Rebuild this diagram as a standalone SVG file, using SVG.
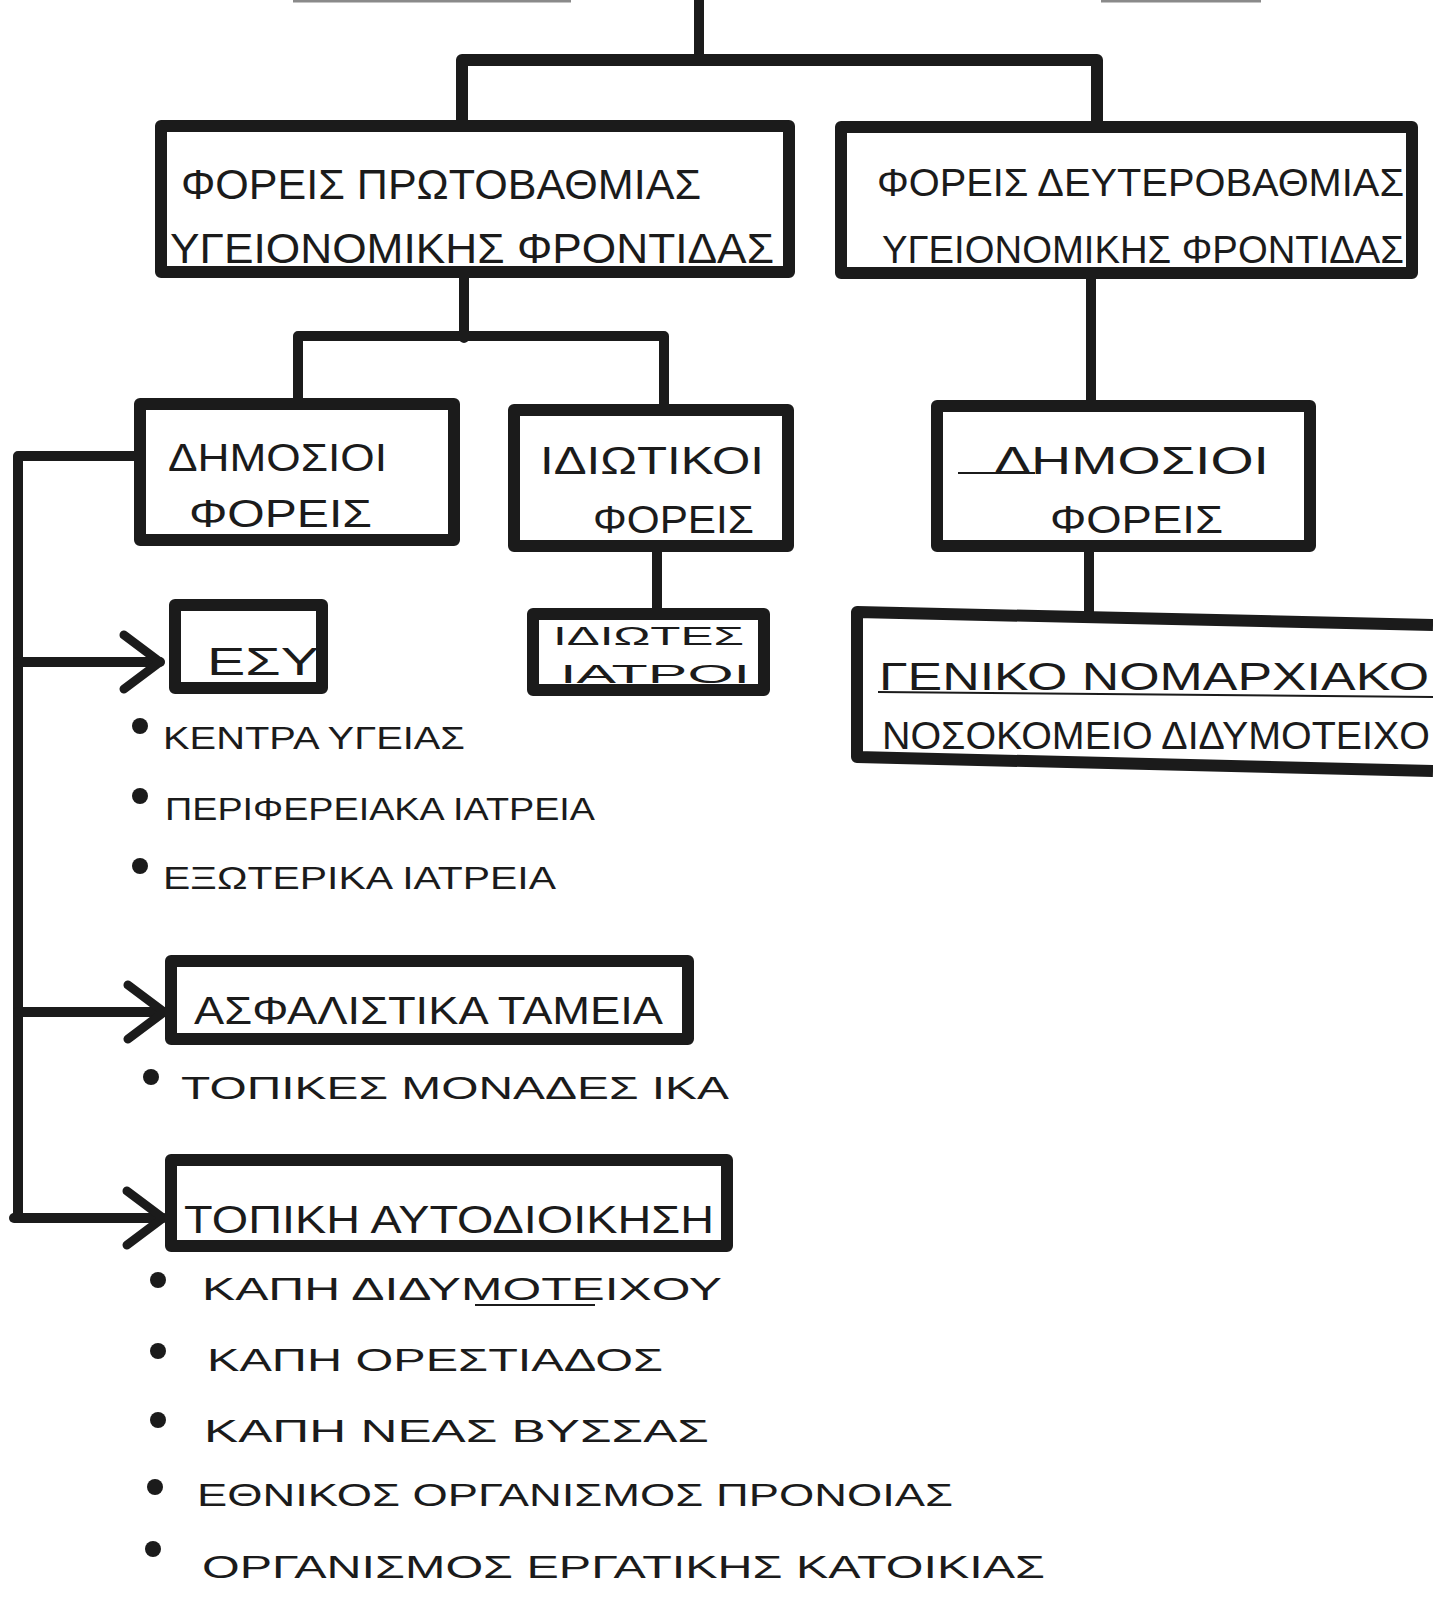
<svg xmlns="http://www.w3.org/2000/svg" width="1433" height="1598" viewBox="0 0 1433 1598">
<style>
.box{fill:none;stroke:#1b1b1b;stroke-width:12;stroke-linejoin:round}
.ln{fill:none;stroke:#1b1b1b;stroke-width:10;stroke-linecap:round;stroke-linejoin:round}
.thin{fill:none;stroke:#1b1b1b;stroke-width:2}
.faint{fill:none;stroke:#8a8a8a;stroke-width:3}
text{font-family:"Liberation Sans","DejaVu Sans",sans-serif;fill:#1b1b1b}
.t1{font-size:42px}
.t2{font-size:38px}
.t3{font-size:26px}
.b{font-size:32px}
.dot{fill:#1b1b1b}
</style>
<defs>
<marker id="chev" markerUnits="userSpaceOnUse" markerWidth="60" markerHeight="70" refX="46" refY="35" orient="auto">
<path d="M10,8 L46,35 L10,62" fill="none" stroke="#1b1b1b" stroke-width="9" stroke-linecap="round" stroke-linejoin="round"/>
</marker>
</defs>
<rect width="1433" height="1598" fill="#ffffff"/>

<g id="connectors">
<line class="faint" x1="293" y1="1" x2="571" y2="1"/>
<line class="faint" x1="1101" y1="1" x2="1261" y2="1"/>
<path class="ln" d="M699,0 L699,60"/>
<path class="ln" d="M462,124 L462,60 L1097,60 L1097,126" style="stroke-width:12"/>
<path class="ln" d="M464,272 L464,338"/>
<path class="ln" d="M298,402 L298,336 L664,336 L664,408"/>
<path class="ln" d="M657,546 L657,614"/>
<path class="ln" d="M1091,273 L1091,405"/>
<path class="ln" d="M1089,546 L1089,614"/>
<path class="ln" d="M140,456 L18,456 L18,1218"/>
<path class="ln" d="M18,662 L160,662" marker-end="url(#chev)"/>
<path class="ln" d="M18,1012 L164,1012" marker-end="url(#chev)"/>
<path class="ln" d="M14,1218 L163,1218" marker-end="url(#chev)"/>
</g>

<g id="n-protovathmia">
<rect class="box" x="161" y="126" width="628" height="146"/>
<text class="t1" x="181" y="199" textLength="520" lengthAdjust="spacingAndGlyphs">ΦΟΡΕΙΣ ΠΡΩΤΟΒΑΘΜΙΑΣ</text>
<text class="t1" x="170" y="263" textLength="604" lengthAdjust="spacingAndGlyphs">ΥΓΕΙΟΝΟΜΙΚΗΣ ΦΡΟΝΤΙΔΑΣ</text>
</g>

<g id="n-defterovathmia">
<rect class="box" x="841" y="127" width="571" height="146"/>
<text class="t2" x="877" y="196" textLength="527" lengthAdjust="spacingAndGlyphs">ΦΟΡΕΙΣ ΔΕΥΤΕΡΟΒΑΘΜΙΑΣ</text>
<text class="t2" x="882" y="263" textLength="522" lengthAdjust="spacingAndGlyphs">ΥΓΕΙΟΝΟΜΙΚΗΣ ΦΡΟΝΤΙΔΑΣ</text>
</g>

<g id="n-dimosioi-1">
<rect class="box" x="140" y="404" width="314" height="136"/>
<text class="t2" x="168" y="471" textLength="219" lengthAdjust="spacingAndGlyphs">ΔΗΜΟΣΙΟΙ</text>
<text class="t2" x="189" y="527" textLength="183" lengthAdjust="spacingAndGlyphs">ΦΟΡΕΙΣ</text>
</g>

<g id="n-idiotikoi">
<rect class="box" x="514" y="410" width="274" height="136"/>
<text class="t2" x="540" y="474" textLength="224" lengthAdjust="spacingAndGlyphs">ΙΔΙΩΤΙΚΟΙ</text>
<text class="t2" x="593" y="533" textLength="161" lengthAdjust="spacingAndGlyphs">ΦΟΡΕΙΣ</text>
</g>

<g id="n-idiotes">
<rect class="box" x="533" y="614" width="231" height="76"/>
<text class="t3" x="553" y="645" textLength="191" lengthAdjust="spacingAndGlyphs">ΙΔΙΩΤΕΣ</text>
<text class="t3" x="560" y="683" textLength="190" lengthAdjust="spacingAndGlyphs">ΙΑΤΡΟΙ</text>
</g>

<g id="n-esy">
<rect class="box" x="175" y="605" width="147" height="83"/>
<text class="t2" x="207" y="675" textLength="112" lengthAdjust="spacingAndGlyphs">ΕΣΥ</text>
</g>

<g id="n-dimosioi-2">
<rect class="box" x="937" y="406" width="373" height="140"/>
<line class="thin" x1="958" y1="473" x2="1035" y2="473"/>
<text class="t2" x="994" y="474" textLength="275" lengthAdjust="spacingAndGlyphs">ΔΗΜΟΣΙΟΙ</text>
<text class="t2" x="1050" y="533" textLength="173" lengthAdjust="spacingAndGlyphs">ΦΟΡΕΙΣ</text>
</g>

<g id="n-nosokomeio">
<path class="box" d="M1433,625 L857,612 L857,757 L1433,771"/>
<line class="thin" x1="878" y1="692" x2="1433" y2="697"/>
<text class="t2" x="879" y="690" textLength="550" lengthAdjust="spacingAndGlyphs">ΓΕΝΙΚΟ ΝΟΜΑΡΧΙΑΚΟ</text>
<text class="t2" x="882" y="749" textLength="548" lengthAdjust="spacingAndGlyphs">ΝΟΣΟΚΟΜΕΙΟ ΔΙΔΥΜΟΤΕΙΧΟ</text>
</g>

<g id="n-esy-list">
<circle class="dot" cx="140" cy="726" r="8"/>
<text class="b" x="163" y="749" textLength="302" lengthAdjust="spacingAndGlyphs">ΚΕΝΤΡΑ ΥΓΕΙΑΣ</text>
<circle class="dot" cx="140" cy="796" r="8"/>
<text class="b" x="165" y="820" textLength="430" lengthAdjust="spacingAndGlyphs">ΠΕΡΙΦΕΡΕΙΑΚΑ ΙΑΤΡΕΙΑ</text>
<circle class="dot" cx="140" cy="866" r="8"/>
<text class="b" x="163" y="889" textLength="393" lengthAdjust="spacingAndGlyphs">ΕΞΩΤΕΡΙΚΑ ΙΑΤΡΕΙΑ</text>
</g>

<g id="n-asfalistika">
<rect class="box" x="171" y="961" width="517" height="78"/>
<text class="t2" x="194" y="1024" textLength="469" lengthAdjust="spacingAndGlyphs">ΑΣΦΑΛΙΣΤΙΚΑ ΤΑΜΕΙΑ</text>
<circle class="dot" cx="151" cy="1077" r="8"/>
<text class="b" x="181" y="1099" textLength="548" lengthAdjust="spacingAndGlyphs">ΤΟΠΙΚΕΣ ΜΟΝΑΔΕΣ ΙΚΑ</text>
</g>

<g id="n-topiki">
<rect class="box" x="171" y="1160" width="556" height="86"/>
<text class="t2" x="184" y="1233" textLength="530" lengthAdjust="spacingAndGlyphs">ΤΟΠΙΚΗ ΑΥΤΟΔΙΟΙΚΗΣΗ</text>
</g>

<g id="n-topiki-list">
<circle class="dot" cx="158" cy="1280" r="8"/>
<text class="b" x="202" y="1300" textLength="520" lengthAdjust="spacingAndGlyphs">ΚΑΠΗ  ΔΙΔΥΜΟΤΕΙΧΟΥ</text>
<line class="thin" x1="475" y1="1305" x2="595" y2="1305"/>
<circle class="dot" cx="158" cy="1351" r="8"/>
<text class="b" x="207" y="1371" textLength="456" lengthAdjust="spacingAndGlyphs">ΚΑΠΗ  ΟΡΕΣΤΙΑΔΟΣ</text>
<circle class="dot" cx="158" cy="1420" r="8"/>
<text class="b" x="204" y="1442" textLength="505" lengthAdjust="spacingAndGlyphs">ΚΑΠΗ  ΝΕΑΣ ΒΥΣΣΑΣ</text>
<circle class="dot" cx="155" cy="1487" r="8"/>
<text class="b" x="197" y="1506" textLength="756" lengthAdjust="spacingAndGlyphs">ΕΘΝΙΚΟΣ  ΟΡΓΑΝΙΣΜΟΣ  ΠΡΟΝΟΙΑΣ</text>
<circle class="dot" cx="153" cy="1549" r="8"/>
<text class="b" x="202" y="1578" textLength="843" lengthAdjust="spacingAndGlyphs">ΟΡΓΑΝΙΣΜΟΣ  ΕΡΓΑΤΙΚΗΣ  ΚΑΤΟΙΚΙΑΣ</text>
</g>
</svg>
